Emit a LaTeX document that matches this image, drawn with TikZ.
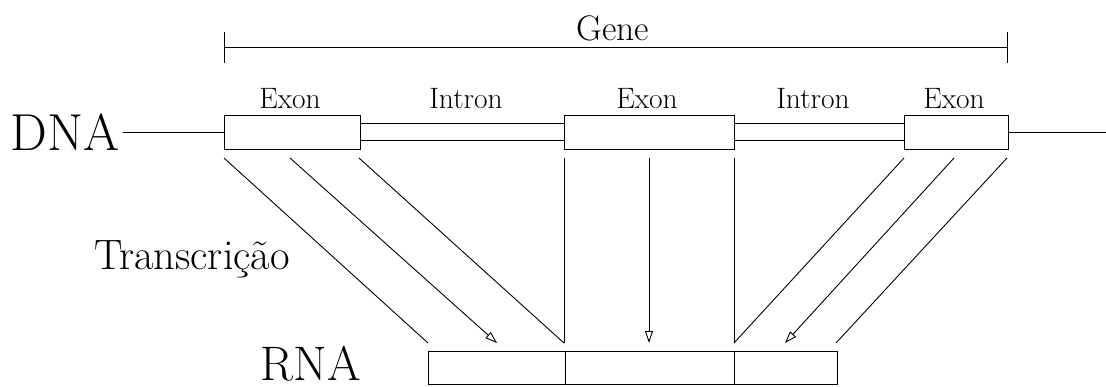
\documentclass[tikz,border=0pt]{standalone}
\usepackage{fontspec}
\usetikzlibrary{arrows.meta,calc}
\begin{document}
\begin{tikzpicture}[x=1pt,y=-1pt,
  ln/.style={line width=0.9pt},
  box/.style={draw,line width=0.9pt,minimum height=34pt,inner sep=0pt,anchor=center},
  lbl/.style={inner sep=0pt,anchor=base},
  small/.style={lbl,font=\fontsize{29.5}{34}\selectfont},
  arr/.style={ln,-{Triangle[open,length=12pt,width=8pt]}}]
\useasboundingbox (0,0) rectangle (1106,386);
% labels
\node[lbl,font=\fontsize{35.5}{40}\selectfont] (gene) at (613,40) {Gene};
\node[lbl,font=\fontsize{52}{58}\selectfont] (dna) at (65,150) {DNA};
\node[lbl,font=\fontsize{48.5}{54}\selectfont] (rna) at (311,380) {RNA};
\node[lbl,font=\fontsize{42.5}{48}\selectfont] (tr) at (192,269) {Transcrição};
\node[small] (x1) at (290,108) {Exon};
\node[small] (i1) at (466,108) {Intron};
\node[small] (x2) at (647,108) {Exon};
\node[small] (i2) at (813,108) {Intron};
\node[small] (x3) at (954,108) {Exon};
% gene bracket
\coordinate (g1) at (224,47);
\coordinate (g2) at (1007,47);
\draw[ln] (g1) -- (g2);
\draw[ln] ($(g1)+(0,-15)$) -- ($(g1)+(0,16)$);
\draw[ln] ($(g2)+(0,-15)$) -- ($(g2)+(0,16)$);
% exon boxes
\node[box,minimum width=136pt] (e1) at (292,132) {};
\node[box,minimum width=170pt] (e2) at (649,132) {};
\node[box,minimum width=104pt] (e3) at (956,132) {};
% introns
\draw[ln] (360,123) -- (564,123);
\draw[ln] (360,140) -- (564,140);
\draw[ln] (734,123) -- (904,123);
\draw[ln] (734,140) -- (904,140);
% DNA strand
\coordinate (dl) at (123,132);
\coordinate (dr) at (1106,132);
\draw[ln] (dl) -- (e1.west);
\draw[ln] (e3.east) -- (dr);
% RNA boxes
\node[box,minimum width=137pt,minimum height=33pt] (r1) at (496.5,367.5) {};
\node[box,minimum width=169pt,minimum height=33pt] (r2) at (649.5,367.5) {};
\node[box,minimum width=103pt,minimum height=33pt] (r3) at (785.5,367.5) {};
% transcription lines
\coordinate (a1) at (224,158); \coordinate (b1) at (428,343);
\coordinate (a2) at (290,158); \coordinate (b2) at (497,343);
\coordinate (a3) at (359,158); \coordinate (b3) at (564,343);
\coordinate (a4) at (564,158); \coordinate (b4) at (564,343);
\coordinate (a5) at (649,158); \coordinate (b5) at (649,343);
\coordinate (a6) at (734,158); \coordinate (b6) at (734,343);
\coordinate (a7) at (904,158); \coordinate (b7) at (734,343);
\coordinate (a8) at (954,158); \coordinate (b8) at (785,343);
\coordinate (a9) at (1007,158); \coordinate (b9) at (836,343);
\draw[ln] (a1) -- (b1);
\draw[arr] (a2) -- (b2);
\draw[ln] (a3) -- (b3);
\draw[ln] (a4) -- (b4);
\draw[arr] (a5) -- (b5);
\draw[ln] (a6) -- (b6);
\draw[ln] (a7) -- (b7);
\draw[arr] (a8) -- (b8);
\draw[ln] (a9) -- (b9);
\end{tikzpicture}
\end{document}
